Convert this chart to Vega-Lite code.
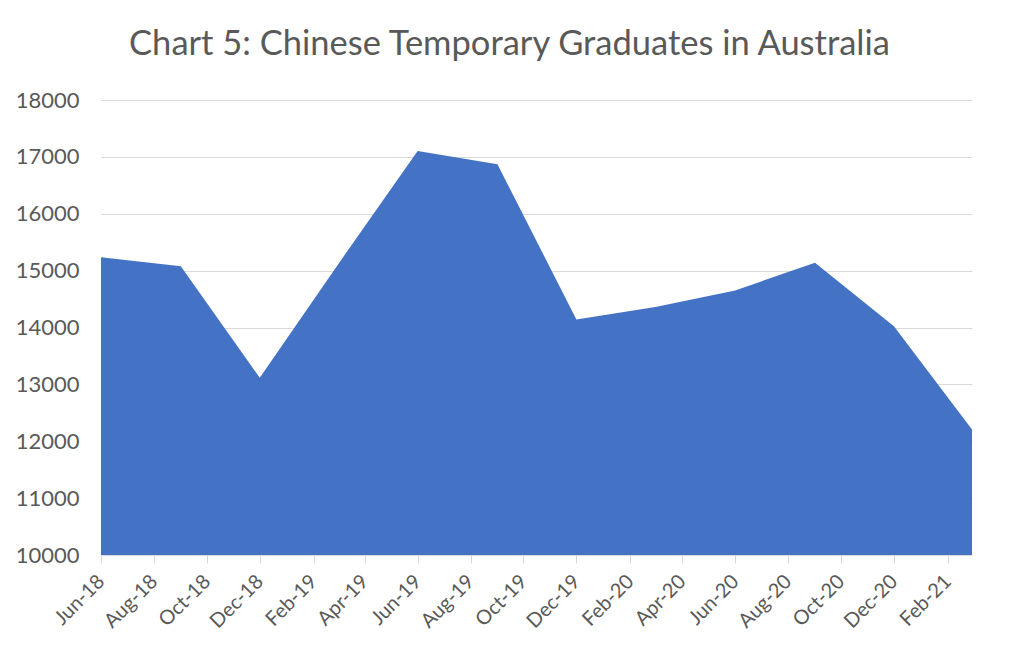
{
  "$schema": "https://vega.github.io/schema/vega-lite/v6.json",
  "autosize": "none",
  "width": 871,
  "height": 455,
  "padding": {"left": 101, "top": 100, "right": 52, "bottom": 108},
  "background": "white",
  "title": {
    "text": "Chart 5: Chinese Temporary Graduates in Australia",
    "font": "Lato",
    "fontSize": 34.5,
    "fontWeight": "normal",
    "color": "#595959",
    "anchor": "middle",
    "dx": -27,
    "offset": 27
  },
  "data": {
    "values": [
      {"date": "2018-06-01", "value": 15233},
      {"date": "2018-09-01", "value": 15075},
      {"date": "2018-12-01", "value": 13117},
      {"date": "2019-03-01", "value": 15105},
      {"date": "2019-06-01", "value": 17105},
      {"date": "2019-09-01", "value": 16871},
      {"date": "2019-12-01", "value": 14140},
      {"date": "2020-03-01", "value": 14360},
      {"date": "2020-06-01", "value": 14651},
      {"date": "2020-09-01", "value": 15140},
      {"date": "2020-12-01", "value": 14023},
      {"date": "2021-03-01", "value": 12205}
    ]
  },
  "mark": {"type": "area", "color": "#4472C4", "opacity": 1},
  "encoding": {
    "x": {
      "field": "date",
      "type": "temporal",
      "scale": {
        "type": "utc",
        "domain": [
          {"year": 2018, "month": 6, "date": 1, "utc": true},
          {"year": 2021, "month": 3, "date": 1, "utc": true}
        ]
      },
      "axis": {
        "title": null,
        "values": [
          {"year": 2018, "month": 6, "date": 1, "utc": true},
          {"year": 2018, "month": 8, "date": 1, "utc": true},
          {"year": 2018, "month": 10, "date": 1, "utc": true},
          {"year": 2018, "month": 12, "date": 1, "utc": true},
          {"year": 2019, "month": 2, "date": 1, "utc": true},
          {"year": 2019, "month": 4, "date": 1, "utc": true},
          {"year": 2019, "month": 6, "date": 1, "utc": true},
          {"year": 2019, "month": 8, "date": 1, "utc": true},
          {"year": 2019, "month": 10, "date": 1, "utc": true},
          {"year": 2019, "month": 12, "date": 1, "utc": true},
          {"year": 2020, "month": 2, "date": 1, "utc": true},
          {"year": 2020, "month": 4, "date": 1, "utc": true},
          {"year": 2020, "month": 6, "date": 1, "utc": true},
          {"year": 2020, "month": 8, "date": 1, "utc": true},
          {"year": 2020, "month": 10, "date": 1, "utc": true},
          {"year": 2020, "month": 12, "date": 1, "utc": true},
          {"year": 2021, "month": 2, "date": 1, "utc": true}
        ],
        "labelExpr": "utcFormat(datum.value, '%b-%y')",
        "labelAngle": -45,
        "labelAlign": "right",
        "labelBaseline": "middle",
        "labelFont": "Lato",
        "labelFontSize": 20,
        "labelColor": "#595959",
        "labelPadding": 15,
        "labelOverlap": false,
        "labelFlush": false,
        "grid": false,
        "domainColor": "#d9d9d9",
        "domainWidth": 1,
        "tickColor": "#d9d9d9",
        "tickSize": 8,
        "zindex": 1
      }
    },
    "y": {
      "field": "value",
      "type": "quantitative",
      "scale": {"domain": [10000, 18000], "nice": false, "zero": false},
      "axis": {
        "title": null,
        "values": [10000, 11000, 12000, 13000, 14000, 15000, 16000, 17000, 18000],
        "format": "d",
        "labelFont": "Lato",
        "labelFontSize": 22,
        "labelColor": "#595959",
        "labelPadding": 22,
        "domain": false,
        "ticks": false,
        "gridColor": "#d9d9d9",
        "gridWidth": 1
      }
    },
    "y2": {"datum": 10000}
  },
  "config": {"view": {"stroke": null}}
}
